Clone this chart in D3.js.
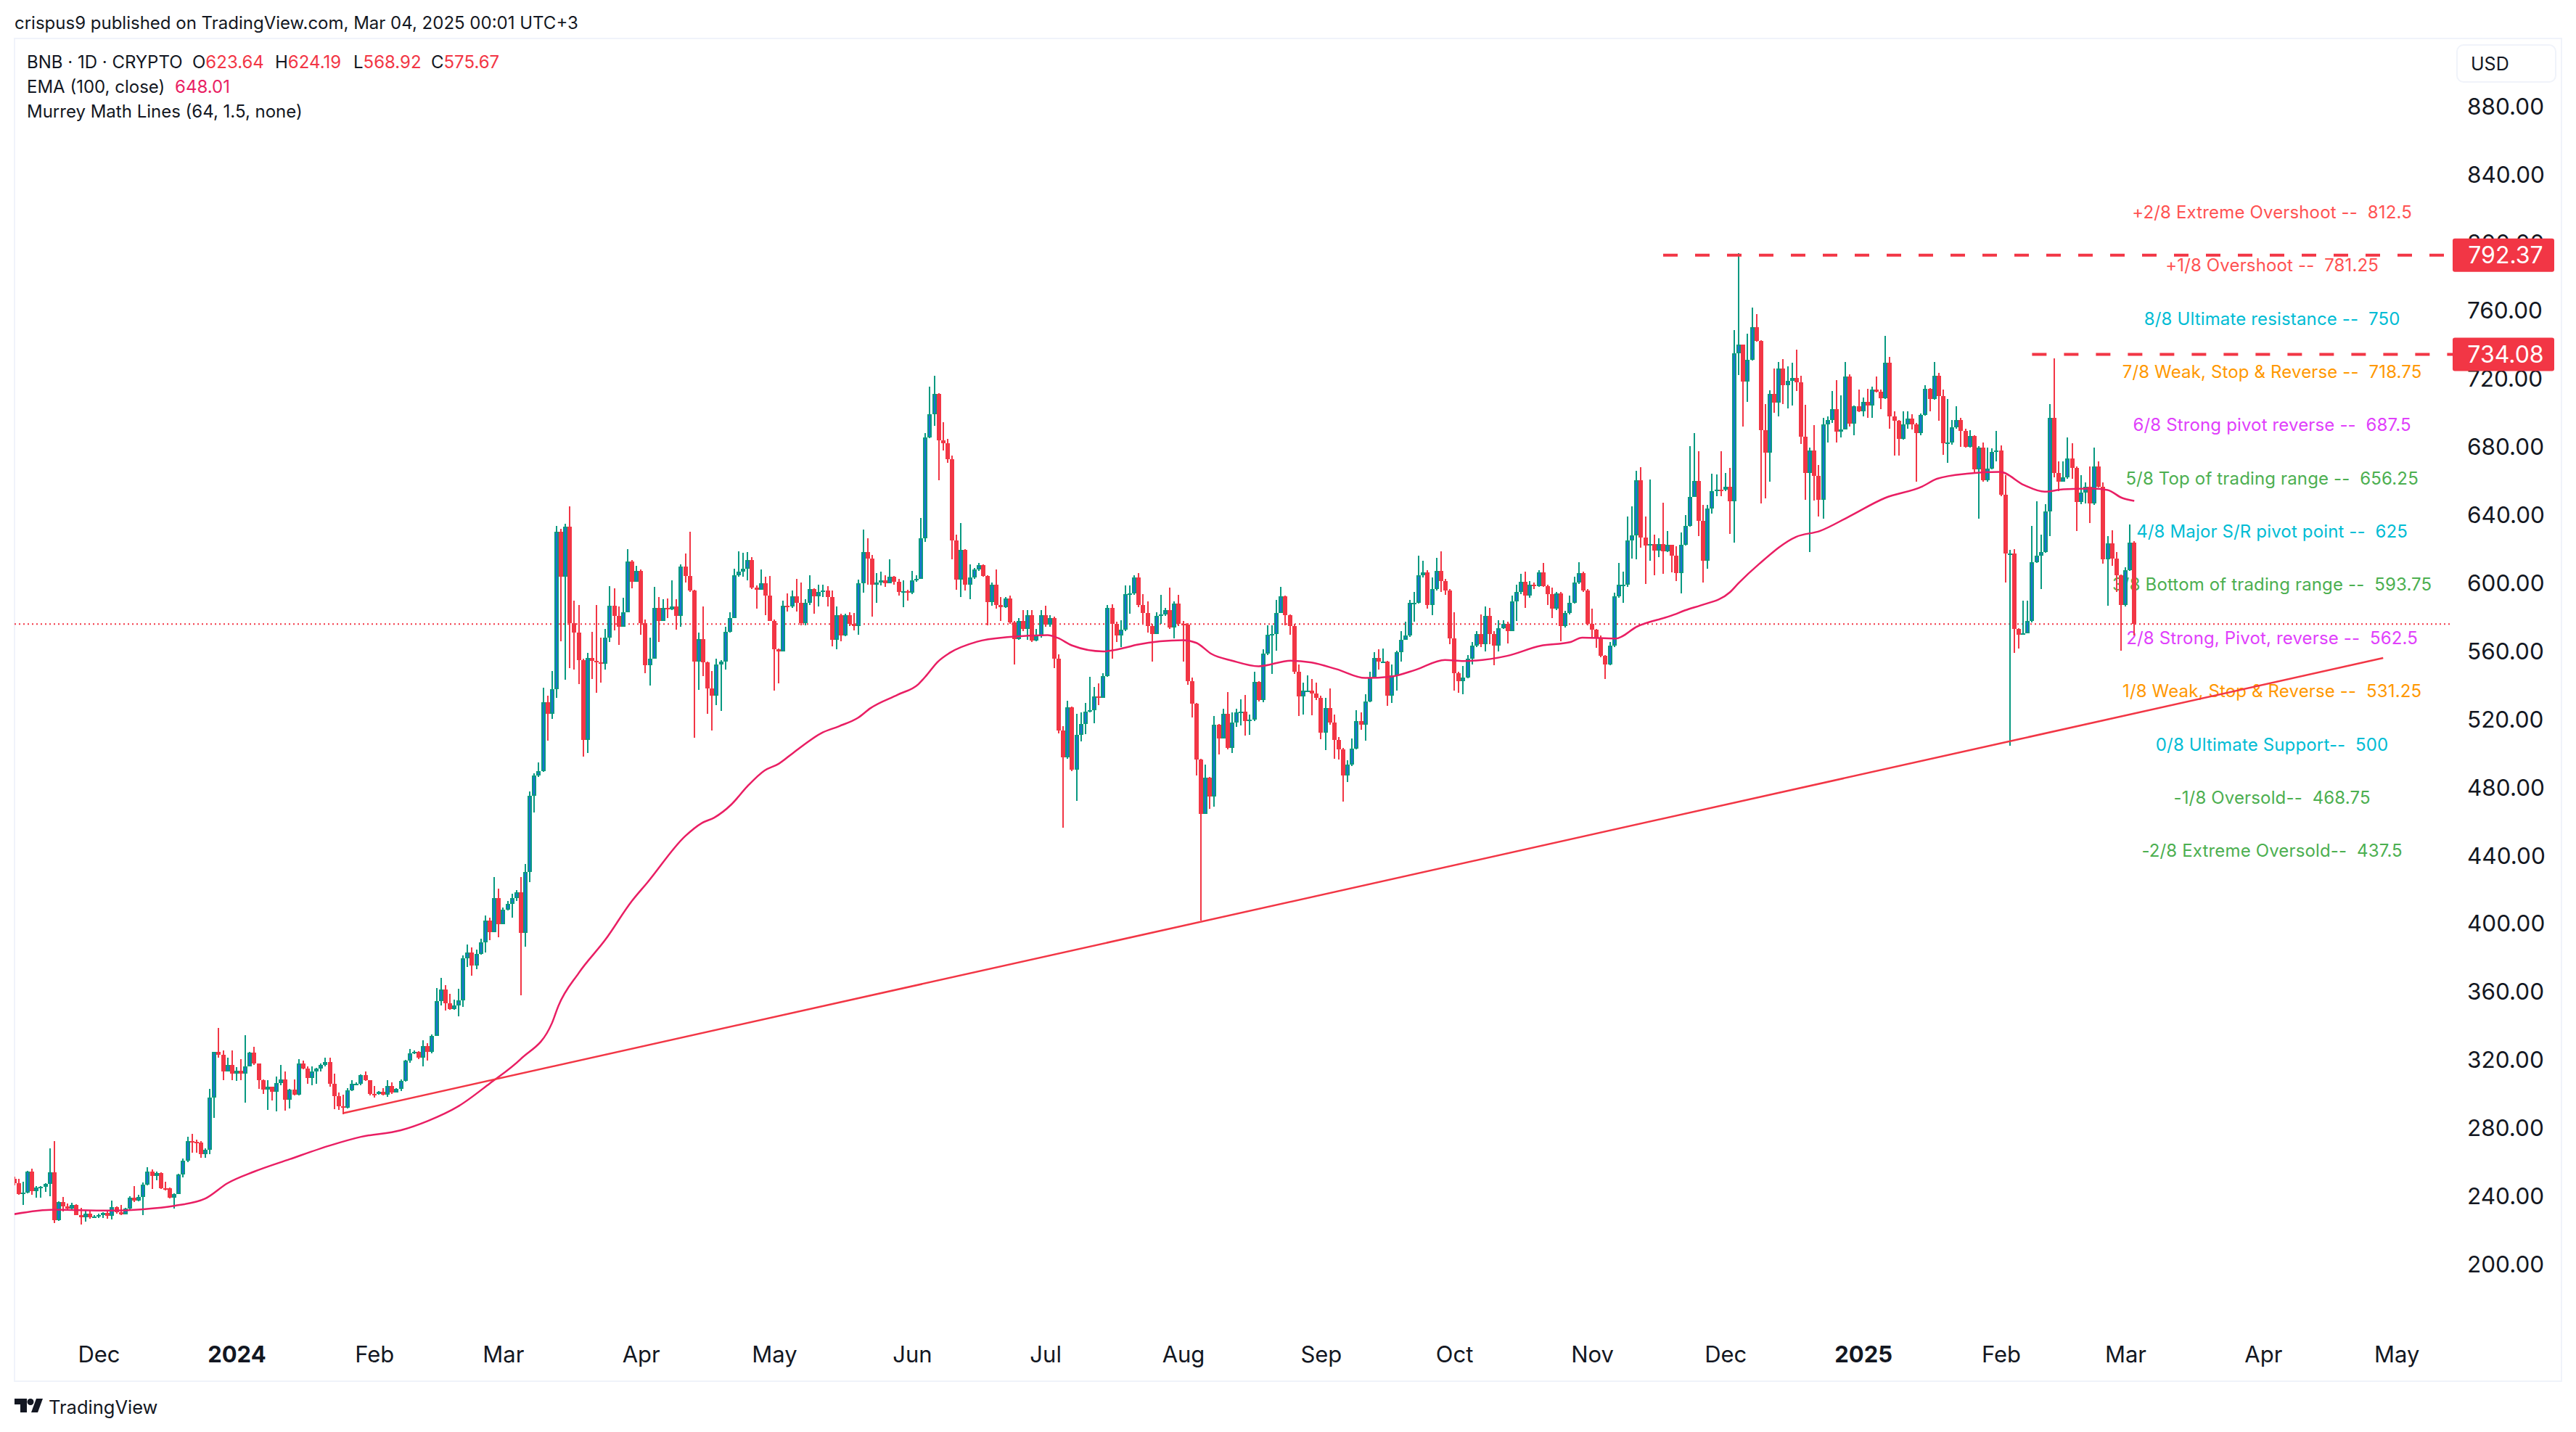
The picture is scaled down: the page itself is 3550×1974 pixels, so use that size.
<!DOCTYPE html>
<html>
<head>
<meta charset="utf-8">
<title>BNB 1D</title>
<script src="https://cdn.jsdelivr.net/npm/d3@7"></script>
<style>
  html, body { margin: 0; background: #fff; }
  svg { display: block; }
  text { font-family: Inter, "Noto Sans", sans-serif; fill: #131722; }
</style>
</head>
<body>
<div id="chart"></div>
<script>
// daily candles, first one is 2023-11-12
const firstDay = Date.UTC(2023, 10, 12);
const firstOpen = 250;

const closes = [
  247.3,240.9,241.7,254.1,242.6,244.8,245.1,246.8,253.6,225.6,
  236.3,233.6,232.5,234.6,228.6,227.4,229.5,227.3,227.8,228.6,
  229.8,228.1,233.2,230.3,229.1,232.4,238.8,237.1,239.3,246.5,
  254.1,251.5,253.2,244.4,244.1,238.8,241,252.4,260.4,271.9,
  271.6,271.1,264.3,266.8,297.7,324.2,322.9,313,316.9,311.8,
  313.5,311.8,316.1,323.9,317.8,307.6,302.1,303.8,301.1,305.9,
  308.4,296.4,302.1,299.1,317.6,314.7,308.9,312.7,314.4,316.9,
  318.3,305.5,298.4,292.6,291.4,302,305.5,305.5,310.6,307.6,
  299.9,299.6,301.1,299.1,304.5,300.4,302.5,307.2,319.1,323.7,
  324.2,320.8,328,324.6,333.9,354.3,361.1,353.1,349.7,351.7,
  354.8,379.4,382.7,375,382,388.8,401.6,394.6,414.9,399.6,
  408.1,411.4,414.9,418.3,394.4,429.9,474.6,486.6,489.2,529.9,
  522.9,537.5,630.1,603.3,632.7,576.2,570.7,554.4,507.5,555.9,
  554,553.1,552.3,567.5,586.6,580.5,574,582.7,612.5,600.7,
  607,576.2,551.4,555.5,585.3,577.7,585.3,584.4,586,580.5,
  609.4,604,595.3,553.6,566.8,553.3,537.7,533.8,552,553.8,
  571.2,579.4,604.4,606.6,608.3,613.1,597.3,595.7,599.6,592.5,
  577.7,560.9,559.4,586.6,586,591.8,588.1,576.2,588.1,596.2,
  591.8,594.7,595.3,591.4,566.4,581,569,581,575.7,574.4,
  599.6,618.1,614.2,598.6,600.1,601.2,599.6,603.3,600.7,594.6,
  595.1,594,601.2,602.3,626.2,685.3,698.9,710.7,683.5,682,
  672.6,624.6,601.8,619.2,599,602.9,607.7,610.5,603.8,588.6,
  599,587,585.5,590.7,576.6,567,577.7,572.9,581,566,
  568.6,581,575.5,579.4,555.5,513.1,497.2,526.6,490.3,510.5,
  516.8,524.4,524.9,533.3,532.3,545.1,585.3,575.9,568.8,572.2,
  593.3,593.8,603.1,586.8,582,574.4,570,580.3,581.4,584,
  573.8,587.9,575.9,575.3,542.2,528.8,496.2,464,485.3,474.4,
  516.6,508.6,523.1,503.1,517.9,523.8,524.2,518.8,519.4,541.8,
  531,558.5,569.4,570,582.1,591.8,580.7,574.4,547.7,533,
  536.8,536.8,535.1,532.5,511.8,526.4,517.9,507.5,502,486.8,
  493.3,502.7,518.8,516.6,530.3,544.4,555.9,553.5,553.5,533.5,
  545.5,559.2,566.6,568.8,588.3,588.3,604.2,605.9,586.8,596.2,
  606.8,600.9,595.5,567.2,547,542.2,544.4,555.3,562.9,570,
  564,580.3,569.9,562.9,573.1,575.9,571.6,589,594.4,600.3,
  592.2,598.8,598.1,605.9,598.1,593.3,584.6,593.8,574.4,582,
  588.3,599.9,605.7,595.5,575.9,572.2,567.7,557,552,562.9,
  591.8,598.8,598.8,624.6,627.9,660,626.6,621.6,622.7,619,
  622.7,618.3,622.2,615.7,605.5,622.2,633.2,650.4,659.9,636.5,
  613,643.6,653.8,654.8,654.4,656.3,647.7,734.9,739.8,718,
  730.7,750.2,742.1,689.5,676.4,710.9,705.8,725.6,716,718.4,
  720.1,717.6,685.8,664.6,677.7,662.6,648.7,693,695.6,701.7,
  688.5,690.1,721.1,693.2,703.8,700.7,706.2,704.2,713.5,712.3,
  708.2,729.2,697.6,695.2,684.4,693,696.2,693,687.9,698.3,
  713.9,707.8,721.5,709.5,682,682.4,691.1,695.6,689.1,679.9,
  686,666.7,679.3,660.3,667.1,676.9,677.7,651.8,617.1,617.1,
  572.9,569.6,570.3,577.4,612,615.7,618.1,642,696.6,664.6,
  659.5,662,672.8,667.5,647.3,652.8,656.3,646.7,668.1,656.5,
  613.7,623,614.1,604.3,586.9,607.4,623.64,575.67
];

const highs = [
  251.2,249.8,248.2,254.6,255.8,245.6,245.6,247.3,267.7,271.9,
  236.6,239.3,235.4,235.9,234.9,232.9,231.5,231.2,228.6,229.5,
  230.3,231.7,237.1,233.7,234.6,232.9,239.7,245.6,240.5,247.8,
  256.6,255.3,254.1,253.6,248.2,244.8,241.4,252.9,261.7,274.5,
  276.2,272.8,271.9,267.7,302.8,324.6,338.5,325.4,321.2,325.4,
  315.6,320.3,334.2,324.6,327.6,317.8,308.4,307.9,303.8,310.1,
  316.9,312.7,302.8,308.4,320.3,319.1,316.1,316.1,315.2,317.8,
  321.2,320.8,311.8,300.4,299.4,303.3,307.6,306.7,311.3,313,
  307.9,304.5,301.6,303.3,307.6,306.7,303,308.4,319.8,326.3,
  325.4,324.9,331.3,329.6,334.7,362,368,363.6,358.5,355.1,
  361.4,381,387.5,385.9,384.6,391,404.4,403.3,427,420.1,
  409.2,413.1,417.5,419.6,427.3,434.9,477.3,488.1,494.6,538.1,
  533.8,547.9,633.1,631.6,634.4,644.6,589.6,587,555.5,558.8,
  571.2,587,567.5,572.9,597.9,596.8,586,591,619.6,613.1,
  609.9,607.7,578.3,567.9,597.5,591.4,590.3,590.7,601.2,590.3,
  610.9,617,629.9,595.7,570.7,585.9,553.8,547.9,555.5,554.4,
  574,582.7,608.3,618.6,617.5,617.9,614.9,598.3,607.7,603.3,
  604,578.3,561.4,589.6,593.6,595.3,602.3,600.1,590.3,604.4,
  596.8,599,599,597.9,595.3,585.9,581.6,581.6,582.7,582,
  601.6,631,626.2,616.4,605.5,606.6,604.4,613.6,604,602.3,
  601.2,595.7,607,604.4,638.1,687.8,715,721.3,711.1,694.1,
  684.4,674.5,628.3,634.9,619.6,610.9,608.8,611.4,610.9,604.4,
  600.1,607.7,591.4,591.4,592.5,577.3,579.4,583.8,583.8,583.8,
  572.9,583.8,586.6,581,580,557.7,515.7,530.5,527.3,522.9,
  523.9,529.4,544.6,538.8,541,546.8,587,587.4,577,578.1,
  598.3,598.3,604.2,605.7,593.3,589,575.9,582.5,592.7,585.3,
  597,589,592.7,577.5,576.4,544.4,529.2,496.6,493.3,485.7,
  521.6,517.2,525.9,535.7,523.8,525.9,531.4,534,522.7,547.7,
  542.2,560.7,574.9,574.9,590,597.7,592.2,581.4,575.9,552,
  541.2,545.5,543.3,541.2,533.5,532.5,537.9,522.7,509.2,503.1,
  495.5,508.5,525.3,523.8,534.6,547.7,559.2,560.7,561.4,554.2,
  552,560.1,571.6,577,590,594.4,615.7,612.9,607.5,603.1,
  614.4,618.3,602,596.2,582.5,547.7,550.9,557.5,565,571.6,
  581.4,586.2,585,571.6,578.1,578.1,577,592.2,598.8,605.3,
  606.4,600.9,599.9,607.5,611.4,598.8,597.2,594.4,594.4,583.5,
  592.2,603.5,611.8,606.4,596.2,584.6,572.7,568.8,557.5,565,
  593.9,611.4,606.4,639,644.9,665.5,667.9,639,660.7,628.1,
  625.9,647,630.4,622.2,621.2,629.4,639.6,680,687.9,677,
  645.7,645.7,664,663.4,677.3,664.6,667.5,748.2,793.4,739.8,
  746.2,761.4,757.8,742.5,704.8,712.9,725.8,729.6,731.3,727.2,
  729.2,737,721.7,704.4,679.3,692.6,669.1,696.6,697.6,712.5,
  719,709.9,729.6,722.5,704.2,713.5,708.9,714,715,721.1,
  713.5,744.9,732.7,700.7,695.6,700.7,700.7,699.1,693.6,699.3,
  716,714.4,729.6,723.1,713.5,707.8,695.6,703.4,696.6,690.5,
  689.5,686.4,680.3,682.4,679.3,678.7,689.1,680.7,663,619.2,
  619.6,573.3,589.6,589.6,633.4,647.7,628.3,646.3,704.8,731.9,
  671.1,671.1,685.4,681.7,668.1,663,658.9,668.1,679.3,671.1,
  658.9,627.3,630.8,618.1,604.9,609,634,624.19
];

const lows = [
  246,240.5,234.6,241.4,240.5,238.8,238.8,242.2,239.7,224,
  225.2,230.8,231.7,232,228.5,223,224.7,226.4,226.8,226.9,
  226.9,226.4,226,229.5,228.6,229.1,232,236.3,236.6,228.6,
  246.1,243.9,249,243.9,243.1,238.3,232.4,241,250.7,259.7,
  265.1,265.1,262.1,262.1,264.3,285.5,320.8,307.9,312.7,307.6,
  307.2,307.6,294.5,316.1,316.9,302.5,299.9,290.3,296,289.4,
  304.7,289.8,291.1,298.7,298.7,314,305.5,305,305.5,312.7,
  316.1,303.8,290.6,290.3,287.7,291.1,301.6,305,305,307.2,
  298.7,297.4,299.4,298.7,298.2,299.9,300.4,301.6,306.9,318.1,
  323.2,320.3,315.7,319.1,323.7,333.6,351.7,348.7,349.2,349.2,
  345.3,351,374.4,369.2,372.9,381.6,382.7,389.9,394.6,391.8,
  399.6,407.3,403.3,413.1,357.7,386.4,424,464.9,485.9,488.8,
  507,520.1,532.3,565.7,543.1,550,549,540.3,497.9,500.1,
  543.6,535.3,541.4,549,565.3,571.8,563.6,574,582.7,596.8,
  600.7,569.2,546.8,539.6,561.4,565.3,577.3,579.4,583.8,572.3,
  574,600.1,594.6,508.8,537,545.3,522.9,513.1,527.9,524.6,
  549,570.7,579,603.3,603.3,601.2,596.2,584.9,595.7,580.9,
  577.3,536.6,540.9,559.4,583.1,585.3,583.1,575.1,575.1,587,
  581.6,585.9,591.4,585.9,562.7,560.9,565.7,568.6,574.4,571.8,
  569.2,594,599,580.1,588.1,598.3,597.5,600.1,599,592.5,
  585.5,589.6,593.1,600.5,602.3,624,685,692.2,660.3,677.8,
  670.2,613.8,595.7,591.4,595.3,590.3,602.3,607,603.3,575.1,
  586.6,584.9,577.3,585.3,575.7,551.8,566.4,571.4,566.4,565.3,
  565.7,567.5,574,574,550,511.4,455.9,496.4,489.2,471.8,
  506.6,511,524,517.5,527.9,532.3,544.6,555.3,565,562.2,
  571.6,581.8,592.7,585.7,575.9,570.5,553.5,570,575.9,580.3,
  572.7,567.2,574.4,553.5,540,520.9,486.8,401.6,464,467.2,
  468.3,499.2,508.6,502,499.8,515.1,516.2,510,510.7,518.8,
  530.3,529.6,557.5,546.6,560,582.5,574.9,569.4,546.6,521.6,
  522.7,535.7,522.2,530.9,507.9,501.6,516.6,496.6,496.2,471.6,
  483.1,492.2,502,513.5,507,529.6,544,548.8,552.7,527.5,
  529.2,536.8,553.5,567.2,568.3,577,587.9,603.1,584.6,580.9,
  595.5,594.4,592.7,564,536.8,535.3,534.6,544,552,562.2,
  562.2,559.6,564,551.4,559.6,572.7,564.4,571.6,577.5,593.3,
  585.3,591.2,596.2,597.7,597.7,586.8,579.2,584,565.7,573.8,
  581.4,587.9,599.2,594.4,574.9,567.2,561.8,556.4,543.3,551.4,
  562.2,591.2,588.3,597.7,614,613.6,620.5,599.4,612.9,604.2,
  615.1,605.3,618.1,605.9,600.8,593.7,621.8,632.8,650.4,627.3,
  600.2,608,640.6,650.8,650.8,653.8,628.8,623.7,722.1,691.5,
  706.2,730.3,741.5,646.7,649.7,659.5,699.7,697.6,704.8,702.3,
  704.2,712.5,681.3,648.7,618.1,648.3,639,637.5,682.4,694,
  682.4,685.4,689.9,691.5,686.4,700.1,697.6,696.6,696.6,711.9,
  702.1,707.8,690.5,674.8,674.8,683.8,690.5,690,659.5,686.4,
  698,700.7,707.4,695.2,675.2,670.5,680.9,690.5,679.7,679.3,
  679.3,664,637.5,659.5,659.3,666.7,671.1,650.8,600.2,504.4,
  558.6,561.1,569.2,570.3,576.8,611.6,596.1,617.7,627.3,662,
  653.8,659.3,661,661,630.4,646.3,646.7,634.9,645.7,655.9,
  611,586.6,610,594.7,560.1,586.2,606.9,568.92
];

// EMA 100 read at knots: days after 2023-12-01, then price
const emaDays = [-19,-10,2,10,17,24,29,35,43,52,59,68,74,81,88,95,102,103.4,108,114,120,123.5,132,135.7,138.5,142.3,146,149.8,153,156.3,162.9,166.6,170.9,173.6,179.8,184.4,186.3,188.7,191.5,197.6,205,213.5,215.8,219,226,231,233.6,244,247,250.4,255,261,268.2,272.9,278.5,285,290.7,296.3,302.9,307.1,316.9,324.4,331,333.8,341.3,346.2,353.6,357.8,360.4,367,369,373.6,381.9,387.3,393.6,401.9,410.3,413.6,420.3,427.8,433.2,437.8,442,448.7,452,455.3,458];
const emaValues = [229.1,231.7,231.2,232,234,238.3,247.3,254.1,261.4,269.4,274.5,278.4,283.8,292.6,305.9,320.3,341.4,351.2,370.7,390.3,413.1,424,451.2,458.8,462,469.6,480.5,489.6,493.6,500.1,512,515.7,520.7,526.2,534.2,540.3,545.7,553.3,558.8,565.3,568.1,569.2,567.5,563.1,559.6,561.8,563.5,566.2,564.6,558.1,554.2,550.9,554.2,553.1,549.2,544,544.8,548.8,554.6,554,557,562.9,565,567.7,567.2,574.3,580.4,584.5,586.6,594.3,599.8,611,626.9,630.4,638.5,649.7,656.5,661,664,665,657.3,653.4,654.8,655.2,654.4,649.7,648.01];

// drawn levels
const trendDates = ["2024-01-25", "2025-04-28"];
const trendValues = [288.4, 555.8];
const lastClose = 575.67;
const levelValues = [792.37, 734.08];
const levelStarts = ["2024-11-17", "2025-02-08"];

const murreyText = [
  "+2/8 Extreme Overshoot --  812.5",
  "+1/8 Overshoot --  781.25",
  "8/8 Ultimate resistance --  750",
  "7/8 Weak, Stop & Reverse --  718.75",
  "6/8 Strong pivot reverse --  687.5",
  "5/8 Top of trading range --  656.25",
  "4/8 Major S/R pivot point --  625",
  "3/8 Bottom of trading range --  593.75",
  "2/8 Strong, Pivot, reverse --  562.5",
  "1/8 Weak, Stop & Reverse --  531.25",
  "0/8 Ultimate Support--  500",
  "-1/8 Oversold--  468.75",
  "-2/8 Extreme Oversold--  437.5"
];
const murreyValues = [812.5, 781.25, 750, 718.75, 687.5, 656.25, 625, 593.75, 562.5, 531.25, 500, 468.75, 437.5];
const murreyColors = ["#ff5252", "#ff5252", "#00bcd4", "#ff9800", "#e040fb", "#4caf50", "#00bcd4", "#4caf50", "#e040fb", "#ff9800", "#00bcd4", "#4caf50", "#4caf50"];
const murreyDate = "2025-04-03";

const priceTicks = d3.range(200, 881, 40);
const timeTicks = ["2023-12-01", "2024-01-01", "2024-02-01", "2024-03-01", "2024-04-01", "2024-05-01", "2024-06-01", "2024-07-01", "2024-08-01", "2024-09-01", "2024-10-01", "2024-11-01", "2024-12-01", "2025-01-01", "2025-02-01", "2025-03-01", "2025-04-01", "2025-05-01"];
const timeLabels = ["Dec", "2024", "Feb", "Mar", "Apr", "May", "Jun", "Jul", "Aug", "Sep", "Oct", "Nov", "Dec", "2025", "Feb", "Mar", "Apr", "May"];

const WIDTH = 3550, HEIGHT = 1974;
const FRAME = { left: 20, right: 3530, top: 53, bottom: 1904 };
const AXIS_X = 3380;

const UP = "#089981", UP_INNER = "#1a6fd8", DOWN = "#f23645", EMA = "#e91e63";

const day = (s) => new Date(s + "T00:00:00Z");
const x = d3.scaleUtc().domain([day("2023-12-01"), day("2025-03-01")]).range([136, 2929]);
const y = d3.scaleLinear().domain([200, 880]).range([1742, 146]);

const opens = closes.map((c, i) => (i ? closes[i - 1] : firstOpen)); // 24h market, each candle opens on the previous close
opens[opens.length - 1] = 623.64;
const candleX = (i) => Math.round(x(new Date(firstDay + i * 864e5)));

const svg = d3.select("#chart").append("svg")
  .attr("width", WIDTH).attr("height", HEIGHT)
  .attr("viewBox", `0 0 ${WIDTH} ${HEIGHT}`);

svg.append("rect").attr("width", WIDTH).attr("height", HEIGHT).attr("fill", "#fff");

svg.append("clipPath").attr("id", "plot").append("rect")
  .attr("x", FRAME.left).attr("y", FRAME.top)
  .attr("width", FRAME.right - FRAME.left).attr("height", FRAME.bottom - FRAME.top);

svg.append("rect")
  .attr("x", FRAME.left).attr("y", FRAME.top)
  .attr("width", FRAME.right - FRAME.left).attr("height", FRAME.bottom - FRAME.top)
  .attr("fill", "none").attr("stroke", "#f0f3fa").attr("stroke-width", 2);

// header + legend
svg.append("text").attr("x", 20).attr("y", 40)
  .style("font-size", "24px")
  .text("crispus9 published on TradingView.com, Mar 04, 2025 00:01 UTC+3");

const legendFont = "24px";
svg.append("text").attr("x", 37).attr("y", 94).style("font-size", legendFont)
  .text("BNB · 1D · CRYPTO");

const ohlcNames = ["O", "H", "L", "C"];
const ohlcValues = ["623.64", "624.19", "568.92", "575.67"];
const ohlcX = [265, 379, 487, 594];
ohlcNames.forEach((n, i) => {
  const t = svg.append("text").attr("x", ohlcX[i]).attr("y", 94)
    .style("font-size", legendFont);
  t.append("tspan").text(n);
  t.append("tspan").style("fill", DOWN).text(ohlcValues[i]);
});

svg.append("text").attr("x", 37).attr("y", 128).style("font-size", legendFont)
  .text("EMA (100, close)");
svg.append("text").attr("x", 241).attr("y", 128).style("font-size", legendFont)
  .style("fill", EMA).text("648.01");
svg.append("text").attr("x", 37).attr("y", 162).style("font-size", legendFont)
  .text("Murrey Math Lines (64, 1.5, none)");

// USD button
svg.append("rect").attr("x", 3386).attr("y", 62).attr("width", 136).attr("height", 51).attr("rx", 9)
  .attr("fill", "#fff").attr("stroke", "#f0f3fa").attr("stroke-width", 2);
svg.append("text").attr("x", 3405).attr("y", 97).style("font-size", "25px").text("USD");

// axes
const yAxis = svg.append("g")
  .attr("transform", `translate(3400,0)`)
  .call(d3.axisRight(y).tickValues(priceTicks).tickFormat(d3.format(".2f")).tickSize(0).tickPadding(0));
yAxis.select(".domain").remove();
yAxis.selectAll("text").attr("dy", "0.36em").style("font-size", "31.5px");

const xAxis = svg.append("g")
  .attr("transform", "translate(0,1867)")
  .call(d3.axisBottom(x).tickValues(timeTicks.map(day)).tickFormat((d, i) => timeLabels[i]).tickSize(0).tickPadding(0));
xAxis.select(".domain").remove();
xAxis.selectAll("text").attr("y", 0).attr("dy", "0.36em")
  .style("font-size", "31px")
  .style("font-weight", (d, i) => (/^\d/.test(timeLabels[i]) ? 700 : 400));

const plot = svg.append("g").attr("clip-path", "url(#plot)");

// murrey labels sit under the candles
plot.append("g").selectAll("text")
  .data(murreyText)
  .join("text")
  .attr("x", x(day(murreyDate)))
  .attr("y", (d, i) => y(murreyValues[i]) - 12)
  .attr("dy", "0.36em")
  .attr("text-anchor", "middle")
  .attr("xml:space", "preserve")
  .style("white-space", "pre")
  .style("font-size", "24px")
  .style("letter-spacing", "0.15px")
  .style("fill", (d, i) => murreyColors[i])
  .text((d) => d);

plot.append("line")
  .attr("x1", FRAME.left).attr("x2", 3376)
  .attr("y1", y(lastClose)).attr("y2", y(lastClose))
  .attr("stroke", DOWN).attr("stroke-width", 2).attr("stroke-dasharray", "2,4");

// candles
const candles = plot.append("g");
candles.selectAll("line")
  .data(closes)
  .join("line")
  .attr("x1", (d, i) => candleX(i)).attr("x2", (d, i) => candleX(i))
  .attr("y1", (d, i) => y(highs[i])).attr("y2", (d, i) => y(lows[i]))
  .attr("stroke", (d, i) => (d >= opens[i] ? UP : DOWN))
  .attr("stroke-width", 2)
  .attr("shape-rendering", "crispEdges");

const bodyTop = (i) => y(Math.max(opens[i], closes[i]));
const bodyH = (i) => Math.max(2, Math.abs(y(opens[i]) - y(closes[i])));

candles.selectAll("rect.body")
  .data(closes)
  .join("rect")
  .attr("class", "body")
  .attr("x", (d, i) => candleX(i) - 3)
  .attr("y", (d, i) => bodyTop(i))
  .attr("width", 6)
  .attr("height", (d, i) => bodyH(i))
  .attr("fill", (d, i) => (d >= opens[i] ? UP : DOWN))
  .attr("shape-rendering", "crispEdges");

// up bodies have a blue core inside the green border
candles.selectAll("rect.core")
  .data(closes)
  .join("rect")
  .attr("class", "core")
  .attr("x", (d, i) => candleX(i) - 1)
  .attr("y", (d, i) => bodyTop(i) + 2)
  .attr("width", 2)
  .attr("height", (d, i) => Math.max(0, bodyH(i) - 4))
  .attr("fill", (d, i) => (d >= opens[i] ? UP_INNER : "none"))
  .attr("shape-rendering", "crispEdges");

// EMA
const emaLine = d3.line()
  .x((d, i) => x(new Date(Date.UTC(2023, 11, 1) + emaDays[i] * 864e5)))
  .y((d) => y(d))
  .curve(d3.curveMonotoneX);
plot.append("path").datum(emaValues)
  .attr("d", emaLine)
  .attr("fill", "none").attr("stroke", EMA).attr("stroke-width", 2.5);

// trend line
plot.append("line")
  .attr("x1", x(day(trendDates[0]))).attr("x2", x(day(trendDates[1])))
  .attr("y1", y(trendValues[0])).attr("y2", y(trendValues[1]))
  .attr("stroke", DOWN).attr("stroke-width", 2.5);

// dashed levels with their price tags
levelValues.forEach((v, i) => {
  svg.append("line")
    .attr("x1", x(day(levelStarts[i]))).attr("x2", AXIS_X)
    .attr("y1", y(v)).attr("y2", y(v))
    .attr("stroke", DOWN).attr("stroke-width", 4).attr("stroke-dasharray", "20,24");
  svg.append("rect")
    .attr("x", AXIS_X).attr("y", y(v) - 23)
    .attr("width", 140).attr("height", 46).attr("rx", 3)
    .attr("fill", DOWN);
  svg.append("text")
    .attr("x", 3453).attr("y", y(v)).attr("dy", "0.36em")
    .attr("text-anchor", "middle")
    .style("font-size", "32px").style("fill", "#fff")
    .text(v.toFixed(2));
});

// TradingView mark
const logo = svg.append("g").attr("fill", "#131722");
logo.append("path").attr("d", "M20 1928H37V1947H28V1936H20Z");
logo.append("circle").attr("cx", 42).attr("cy", 1932.5).attr("r", 4.5);
logo.append("path").attr("d", "M50 1928H59L52 1947H43Z");
svg.append("text").attr("x", 67).attr("y", 1949).style("font-size", "25.5px").text("TradingView");
</script>
</body>
</html>
